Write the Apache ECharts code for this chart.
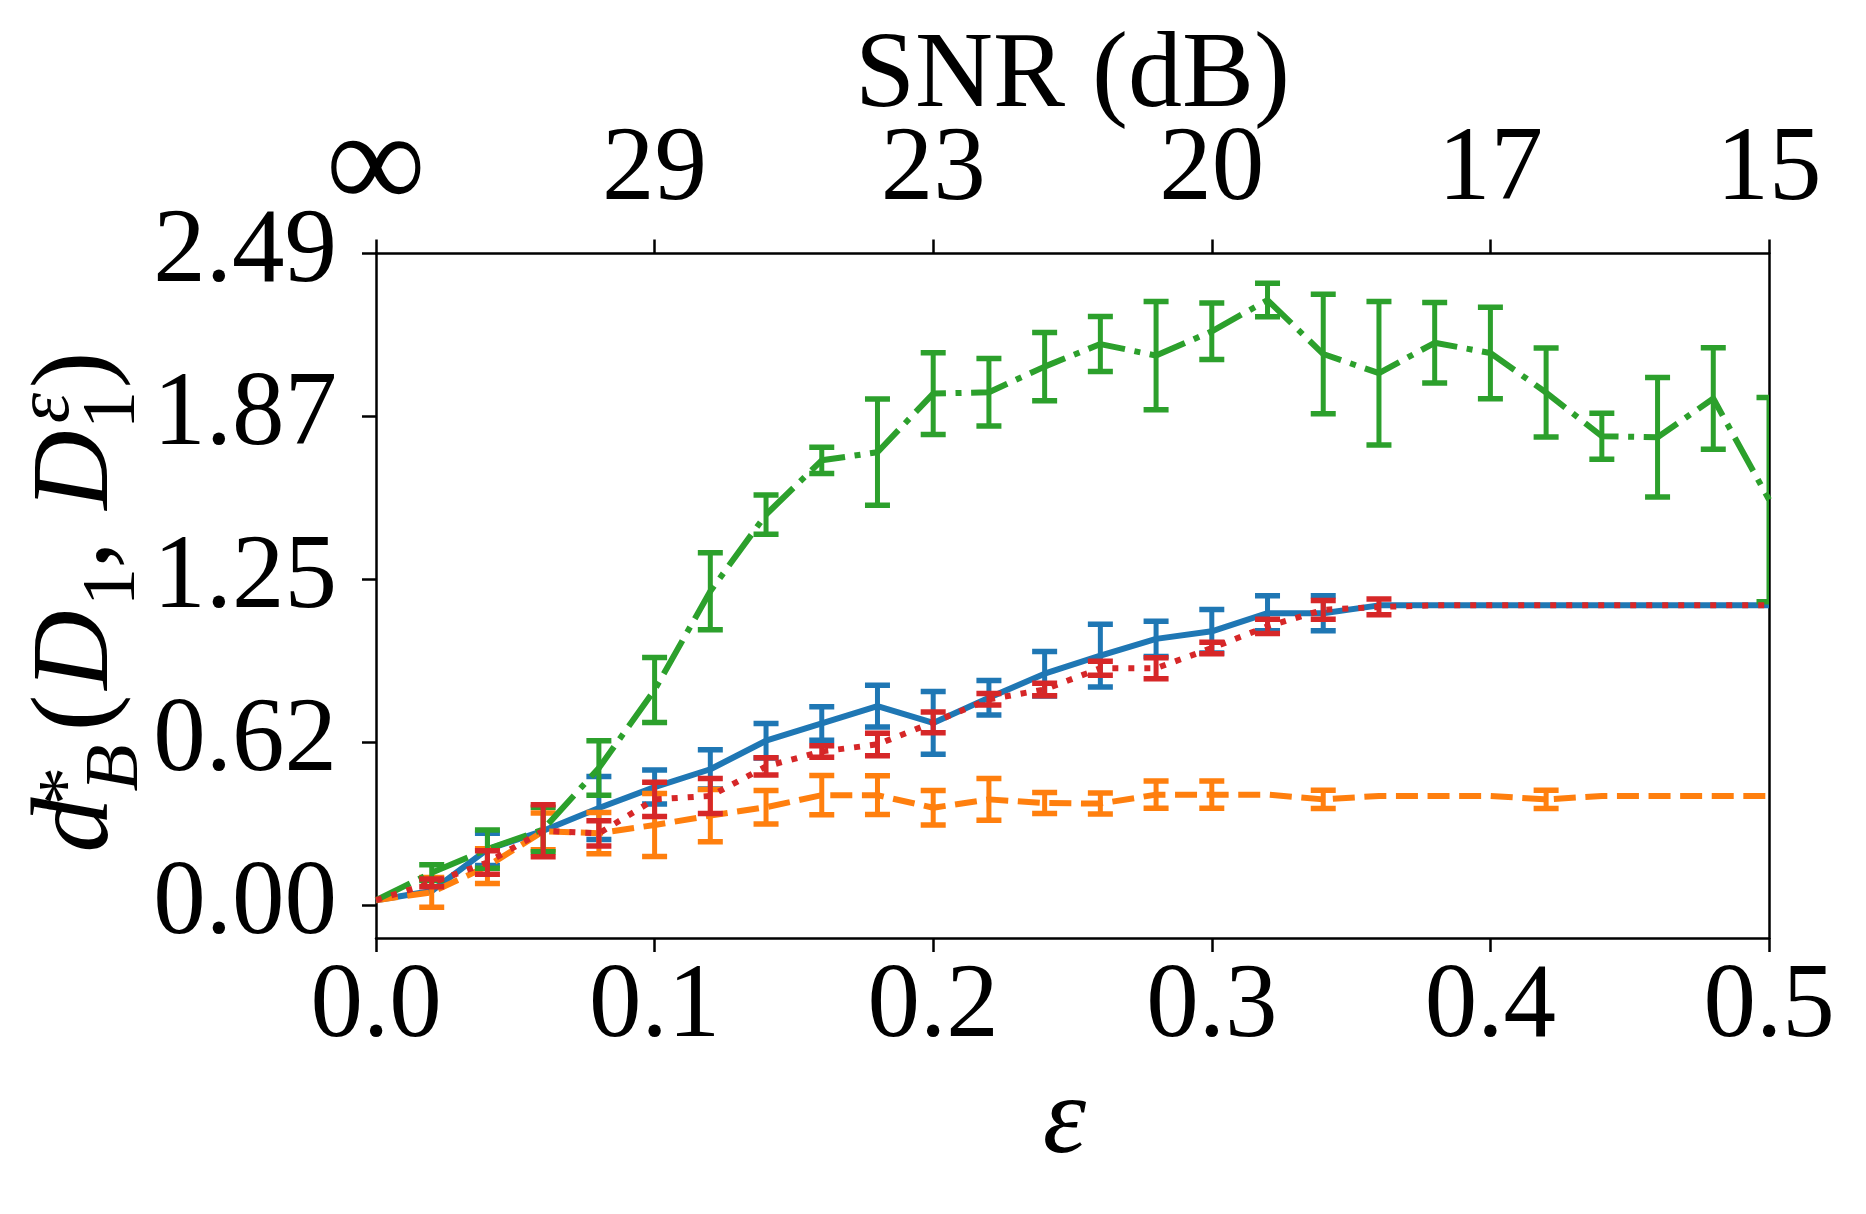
<!DOCTYPE html>
<html>
<head>
<meta charset="utf-8">
<script src="https://cdn.jsdelivr.net/npm/echarts@6.0.0/dist/echarts.min.js"></script>
<style>
  html, body { margin: 0; padding: 0; background: #fff; }
  #chart { width: 1866px; height: 1214px; }
</style>
</head>
<body>
<div id="chart"></div>
<script>
// epsilon values (x)
const eps = [0, 0.02, 0.04, 0.06, 0.08, 0.1, 0.12, 0.14, 0.16, 0.18, 0.2, 0.22, 0.24,
  0.26, 0.28, 0.3, 0.32, 0.34, 0.36, 0.38, 0.4, 0.42, 0.44, 0.46, 0.48, 0.5];

// blue, solid
const blueMean = [0.02, 0.055, 0.214, 0.285, 0.372, 0.452, 0.52, 0.629, 0.695, 0.761, 0.697, 0.793, 0.885,
  0.954, 1.018, 1.047, 1.116, 1.116, 1.146, 1.146, 1.146, 1.146, 1.146, 1.146, 1.146, 1.146];
const blueErr = [0, 0, 0.062, 0, 0.12, 0.065, 0.075, 0.066, 0.064, 0.08, 0.12, 0.066, 0.085,
  0.12, 0.067, 0.083, 0.067, 0.067, 0, 0, 0, 0, 0, 0, 0, 0];

// orange, dashed
const orangeMean = [0.02, 0.05, 0.15, 0.283, 0.276, 0.307, 0.343, 0.375, 0.421, 0.421, 0.373, 0.405, 0.391,
  0.389, 0.423, 0.423, 0.423, 0.405, 0.418, 0.418, 0.418, 0.405, 0.418, 0.418, 0.418, 0.418];
const orangeErr = [0, 0.057, 0.066, 0.07, 0.079, 0.12, 0.1, 0.064, 0.075, 0.074, 0.066, 0.08, 0.04,
  0.04, 0.052, 0.052, 0, 0.035, 0, 0, 0, 0.035, 0, 0, 0, 0];

// green, dash-dot
const greenMean = [0.02, 0.125, 0.215, 0.29, 0.525, 0.823, 1.2, 1.493, 1.7, 1.731, 1.955, 1.96, 2.058,
  2.144, 2.1, 2.193, 2.312, 2.106, 2.033, 2.149, 2.11, 1.959, 1.792, 1.788, 1.936, 1.55];
const greenErr = [0, 0.03, 0.073, 0.085, 0.104, 0.124, 0.147, 0.075, 0.05, 0.203, 0.156, 0.129, 0.13,
  0.105, 0.207, 0.108, 0.064, 0.228, 0.274, 0.154, 0.175, 0.17, 0.088, 0.228, 0.194, 0.39];

// red, dotted
const redMean = [0.02, 0.086, 0.164, 0.285, 0.275, 0.405, 0.418, 0.531, 0.588, 0.615, 0.699, 0.787, 0.825,
  0.906, 0.906, 0.983, 1.066, 1.129, 1.14, 1.146, 1.146, 1.146, 1.146, 1.146, 1.146, 1.146];
const redErr = [0, 0.015, 0.045, 0.099, 0.048, 0.065, 0.067, 0.033, 0.022, 0.043, 0.04, 0.022, 0.024,
  0.027, 0.04, 0.022, 0.027, 0.036, 0.03, 0, 0, 0, 0, 0, 0, 0];

const xTicks = [0, 0.1, 0.2, 0.3, 0.4, 0.5];
const xTickLabels = ['0.0', '0.1', '0.2', '0.3', '0.4', '0.5'];
const snrTickLabels = ['∞', '29', '23', '20', '17', '15'];
const yTicks = [0, 0.6225, 1.245, 1.8675, 2.49];
const yTickLabels = ['0.00', '0.62', '1.25', '1.87', '2.49'];

const FONT = 'Liberation Serif';
const black = '#000';

function pairs(mean) {
  return eps.map((x, i) => [x, mean[i]]);
}
function bars(mean, err) {
  const out = [];
  eps.forEach((x, i) => {
    if (err[i] > 0) out.push([x, mean[i] - err[i], mean[i] + err[i]]);
  });
  return out;
}
function errRender(color) {
  return function (params, api) {
    const x = api.value(0);
    const bot = api.coord([x, api.value(1)]);
    const top = api.coord([x, api.value(2)]);
    const cw = 12.5;
    const st = { stroke: color, lineWidth: 5 };
    const cap = { stroke: color, lineWidth: 5.5 };
    return {
      type: 'group',
      children: [
        { type: 'line', shape: { x1: top[0], y1: top[1], x2: bot[0], y2: bot[1] }, style: st },
        { type: 'line', shape: { x1: top[0] - cw, y1: top[1], x2: top[0] + cw, y2: top[1] }, style: cap },
        { type: 'line', shape: { x1: bot[0] - cw, y1: bot[1], x2: bot[0] + cw, y2: bot[1] }, style: cap },
      ],
    };
  };
}

const styles = [
  { mean: blueMean, err: blueErr, color: '#1f77b4', dash: 'solid' },
  { mean: orangeMean, err: orangeErr, color: '#ff7f0e', dash: [22, 9.6] },
  { mean: greenMean, err: greenErr, color: '#2ca02c', dash: [38, 9.6, 6, 9.6] },
  { mean: redMean, err: redErr, color: '#d62728', dash: [6, 10] },
];

const series = [];
styles.forEach((s, k) => {
  series.push({
    type: 'line',
    data: pairs(s.mean),
    showSymbol: false,
    z: 2 + k * 2,
    lineStyle: { color: s.color, width: 6, type: s.dash, cap: 'butt', join: 'round' },
    clip: true,
  });
  series.push({
    type: 'custom',
    data: bars(s.mean, s.err),
    renderItem: errRender(s.color),
    z: 3 + k * 2,
    clip: true,
  });
});

// y-axis label d*_B(D_1, D_1^eps), rotated, glyph by glyph
const yLabelParts = [
  ['d', 78, 825, 110, 'italic'],
  ['*', 70, 786, 77, 'normal'],
  ['B', 117, 768, 77, 'italic'],
  ['(', 78, 713, 110, 'normal'],
  ['D', 78, 650, 110, 'italic'],
  ['1', 114, 587, 77, 'normal'],
  [',', 78, 555, 110, 'normal'],
  ['D', 78, 470, 110, 'italic'],
  ['1', 114, 410, 77, 'normal'],
  ['ε', 48, 408, 77, 'italic'],
  [')', 78, 370, 110, 'normal'],
];
const graphic = yLabelParts.map(p => ({
  type: 'text',
  x: p[1],
  y: p[2],
  rotation: Math.PI / 2,
  style: {
    text: p[0],
    fontFamily: FONT,
    fontSize: p[3],
    fontStyle: p[4],
    fill: black,
    align: 'center',
    verticalAlign: 'middle',
    textAlign: 'center',
    textVerticalAlign: 'middle',
  },
}));

const axisLine = { show: true, onZero: false, lineStyle: { color: black, width: 2.5 } };
const axisTick = { show: true, inside: false, length: 14, lineStyle: { color: black, width: 2.5 } };

const chart = echarts.init(document.getElementById('chart'));
chart.setOption({
  animation: false,
  backgroundColor: '#fff',
  grid: { left: 376, right: 97, top: 253.5, bottom: 276, containLabel: false, outerBoundsMode: 'none' },
  xAxis: [
    {
      type: 'value', position: 'bottom', min: 0, max: 0.5, interval: 0.1,
      axisLine, axisTick, splitLine: { show: false },
      axisLabel: {
        margin: 18, fontFamily: FONT, fontSize: 105, color: black,
        formatter: v => xTickLabels[xTicks.findIndex(t => Math.abs(t - v) < 1e-9)],
      },
      name: 'ε', nameLocation: 'middle', nameGap: 130, nameMoveOverlap: false,
      nameTextStyle: { fontFamily: FONT, fontSize: 110, fontStyle: 'italic', color: black, padding: [0, 16, 0, 0] },
    },
    {
      type: 'value', position: 'top', min: 0, max: 0.5, interval: 0.1,
      axisLine, axisTick, splitLine: { show: false },
      axisLabel: {
        margin: 30, fontFamily: FONT, fontSize: 105, color: black,
        formatter: v => {
          const s = snrTickLabels[xTicks.findIndex(t => Math.abs(t - v) < 1e-9)];
          return s === '∞' ? '{inf|∞}' : s;
        },
        rich: { inf: { fontFamily: FONT, fontSize: 140, lineHeight: 105, color: black } },
      },
      name: 'SNR (dB)', nameLocation: 'middle', nameGap: 122, nameMoveOverlap: false,
      nameTextStyle: { fontFamily: FONT, fontSize: 108, color: black },
    },
  ],
  yAxis: [
    {
      type: 'value', position: 'left', min: -0.1245, max: 2.49,
      axisLine, splitLine: { show: false },
      axisTick: Object.assign({}, axisTick, { customValues: yTicks }),
      axisLabel: {
        margin: 39, fontFamily: FONT, fontSize: 105, color: black,
        customValues: yTicks,
        formatter: v => yTickLabels[yTicks.findIndex(t => Math.abs(t - v) < 1e-9)],
      },
    },
    {
      type: 'value', position: 'right', min: -0.1245, max: 2.49,
      axisLine, axisTick: { show: false }, axisLabel: { show: false }, splitLine: { show: false },
    },
  ],
  graphic,
  series,
});
</script>
</body>
</html>
